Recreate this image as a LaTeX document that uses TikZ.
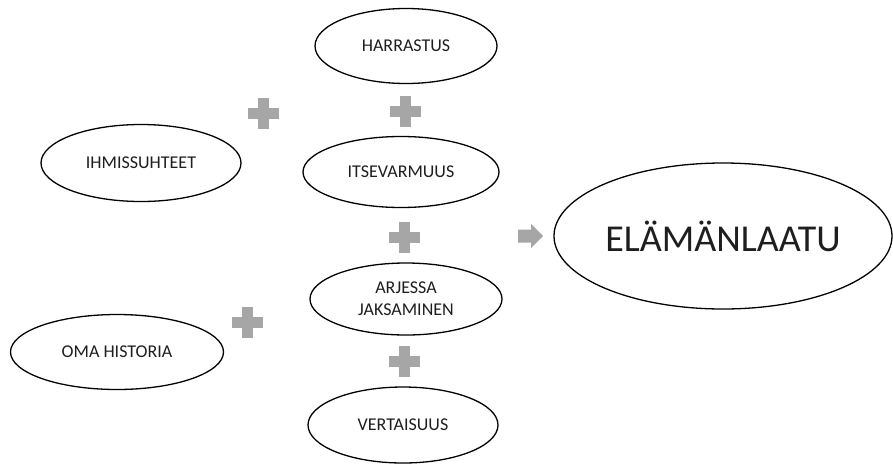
\documentclass[tikz,border=0pt]{standalone}
\usepackage{fontspec}
\setmainfont{Carlito}
\definecolor{plusgray}{RGB}{166,166,166}
\definecolor{txtgray}{RGB}{30,30,30}
\usetikzlibrary{shapes.geometric}
\tikzset{
  factor/.style={draw=black, line width=1.3pt, ellipse, inner sep=0pt,
    minimum width=190pt, minimum height=73pt, align=center,
    font=\fontsize{18}{22}\selectfont, text=txtgray},
  plussign/.pic={
    \fill[plusgray] (-15.5,-5.5) rectangle (15.5,5.5);
    \fill[plusgray] (-5.5,-15.5) rectangle (5.5,15.5);
  }
}
\begin{document}
\begin{tikzpicture}[x=1pt,y=-1pt]
    \useasboundingbox (0,0) rectangle (893,464);
    % Middle column
    \node[factor, minimum width=182pt, minimum height=75pt] (harrastus) at (406,46) {HARRASTUS};
    \node[factor, minimum width=196pt, minimum height=71pt] (itsevarmuus) at (401,172) {ITSEVARMUUS};
    \node[factor, minimum width=192pt, minimum height=72pt] (arki) at (406,299) {ARJESSA\\JAKSAMINEN};
    \node[factor, minimum width=190pt, minimum height=76pt] (vertaisuus) at (403,425) {VERTAISUUS};
    % Left side
    \node[factor, minimum width=200pt, minimum height=77pt] (ihmissuhteet) at (141,163) {IHMISSUHTEET};
    \node[factor, minimum width=213pt, minimum height=75pt] (historia) at (117,352) {OMA HISTORIA};
    % Result
    \node[factor, minimum width=338pt, minimum height=146pt,
          font=\fontsize{38}{44}\selectfont] (laatu) at (723,236) {ELÄMÄNLAATU};
    % Plus signs
    \pic at (263,113) {plussign};
    \pic at (405,111) {plussign};
    \pic at (404,237) {plussign};
    \pic at (247,322) {plussign};
    \pic at (404,361) {plussign};
    % Block arrow
    \fill[plusgray] (518,229.5) -- (531,229.5) -- (531,224) -- (543,236)
      -- (531,248) -- (531,242.5) -- (518,242.5) -- cycle;
\end{tikzpicture}
\end{document}
